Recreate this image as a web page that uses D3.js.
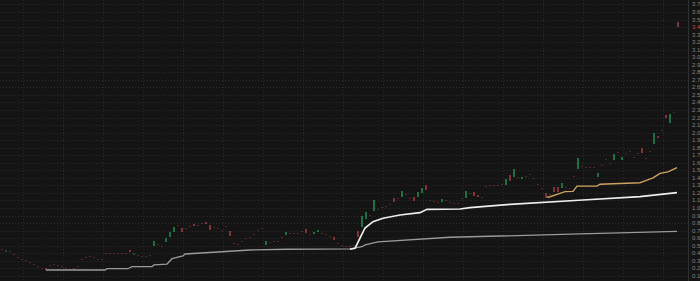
<html>
<head>
  <script src="https://d3js.org/d3.v7.min.js"></script>
  <title>Price chart</title>
</head>
<body style="margin:0;background:#141414;">
  <div id="container"></div>
  <script>
    // candle opens / closes, one per bar
    var opens = [0.45,0.42,0.43,0.39,0.35,0.33,0.31,0.28,0.26,0.23,0.21,0.20,0.25,0.26,0.24,0.23,0.20,0.19,0.20,0.23,
      0.32,0.35,0.36,0.35,0.32,0.33,0.41,0.41,0.40,0.41,0.41,0.40,0.44,0.38,0.38,0.36,0.36,0.38,0.50,0.52,
      0.50,0.55,0.62,0.69,0.77,0.74,0.74,0.76,0.79,0.78,0.80,0.82,0.77,0.75,0.73,0.71,0.76,0.70,0.54,0.52,
      0.56,0.60,0.62,0.65,0.71,0.74,0.51,0.55,0.56,0.56,0.62,0.64,0.67,0.67,0.67,0.69,0.72,0.65,0.65,0.68,
      0.67,0.66,0.63,0.61,0.54,0.51,0.50,0.49,0.51,0.69,0.75,0.86,0.91,0.95,0.99,1.02,1.03,1.05,1.13,1.13,
      1.15,1.18,1.13,1.14,1.14,1.21,1.30,1.11,1.09,1.08,1.08,1.10,1.08,1.06,1.07,1.13,1.14,1.20,1.21,1.17,
      1.14,1.29,1.31,1.30,1.30,1.32,1.31,1.44,1.42,1.41,1.38,1.42,1.45,1.40,1.32,1.27,1.20,1.19,1.28,1.28,
      1.27,1.28,1.27,1.43,1.52,1.56,1.54,1.54,1.54,1.42,1.57,1.65,1.60,1.64,1.74,1.64,1.73,1.76,1.68,1.73,
      1.80,1.67,1.76,1.85,1.95,2.04,2.23,2.13,2.28,3.47];
    var closes = [0.45,0.44,0.42,0.38,0.34,0.32,0.30,0.27,0.25,0.22,0.20,0.17,0.25,0.25,0.23,0.22,0.19,0.19,0.20,0.22,
      0.32,0.35,0.355,0.34,0.31,0.33,0.41,0.40,0.40,0.40,0.41,0.40,0.41,0.40,0.38,0.355,0.36,0.38,0.56,0.51,
      0.49,0.60,0.68,0.75,0.76,0.69,0.73,0.76,0.76,0.77,0.79,0.79,0.70,0.74,0.72,0.70,0.75,0.63,0.53,0.51,
      0.55,0.59,0.61,0.64,0.70,0.73,0.56,0.54,0.55,0.55,0.61,0.68,0.66,0.66,0.665,0.68,0.67,0.64,0.68,0.71,
      0.66,0.65,0.62,0.57,0.53,0.50,0.49,0.49,0.50,0.61,0.90,0.95,0.90,1.10,0.98,1.01,1.02,1.04,1.08,1.12,
      1.23,1.17,1.12,1.09,1.21,1.27,1.24,1.10,1.08,1.07,1.12,1.09,1.07,1.05,1.06,1.12,1.23,1.19,1.16,1.14,
      1.13,1.28,1.30,1.29,1.29,1.31,1.39,1.36,1.52,1.40,1.41,1.41,1.44,1.39,1.31,1.26,1.14,1.18,1.21,1.21,
      1.33,1.27,1.26,1.42,1.66,1.55,1.53,1.53,1.53,1.47,1.56,1.64,1.59,1.72,1.73,1.68,1.72,1.75,1.67,1.72,
      1.74,1.66,1.75,1.99,1.92,2.03,2.19,2.25,2.27,3.40];

    // moving averages: [bar index, value]
    var slowLine = [[11,0.178],[25.75,0.178],[26.25,0.195],[31.5,0.195],[32.5,0.222],[37.5,0.222],[38,0.245],
      [41.25,0.257],[42.5,0.328],[45.25,0.364],[45.75,0.39],[62,0.443],[71.25,0.453],[87,0.457],[90,0.487],
      [90.75,0.51],[94,0.55],[112,0.612],[144.5,0.656],[168.75,0.69]];
    var midLine = [[87,0.453],[88.25,0.466],[89.5,0.60],[90.75,0.735],[92.75,0.819],[95.25,0.864],[99.5,0.907],
      [104.5,0.938],[106.25,0.983],[114.5,0.987],[117,1.004],[127,1.049],[145.25,1.106],[159.5,1.15],[168.75,1.203]];
    var fastLine = [[136.25,1.142],[137,1.15],[139.5,1.195],[140.75,1.217],[142.75,1.22],[143.75,1.29],[148.75,1.29],
      [149.5,1.315],[159.5,1.336],[160.25,1.35],[162.75,1.40],[164.5,1.46],[166.5,1.48],[168.75,1.535]];

    var yTicks = d3.range(1, 38).map(function(d){ return d / 10; });
    var lastPrice = 3.4;

    var width = 700, height = 281, plotRight = 688;

    var svg = d3.select("#container")
      .append("svg")
      .attr("width", width)
      .attr("height", height)
      .style("display", "block")
      .style("background", "#141414");

    var x = d3.scaleLinear().domain([0, 169]).range([2, 678]);
    var y = d3.scaleLinear().domain([0.032, 3.759]).range([height, 0]);

    // dotted grid
    svg.append("g")
      .selectAll("line")
      .data(yTicks)
      .enter()
      .append("line")
      .attr("x1", 0)
      .attr("x2", plotRight)
      .attr("y1", function(d){ return Math.round(y(d)) + 0.5; })
      .attr("y2", function(d){ return Math.round(y(d)) + 0.5; })
      .style("stroke", "#2b2b2b")
      .style("stroke-dasharray", "1,2");
    svg.append("g")
      .selectAll("line")
      .data(d3.range(5.25, 169, 10))
      .enter()
      .append("line")
      .attr("x1", function(d){ return Math.round(x(d)) + 0.5; })
      .attr("x2", function(d){ return Math.round(x(d)) + 0.5; })
      .attr("y1", 0)
      .attr("y2", height)
      .style("stroke", "#282828")
      .style("stroke-dasharray", "1,2");

    // axis separator
    svg.append("line")
      .attr("x1", plotRight + 0.5).attr("x2", plotRight + 0.5)
      .attr("y1", 0).attr("y2", height)
      .style("stroke", "#303030");

    // candles
    svg.append("g")
      .selectAll("rect")
      .data(d3.range(closes.length))
      .enter()
      .append("rect")
      .attr("x", function(i){ return Math.round(x(i)) - 1; })
      .attr("width", 2)
      .attr("y", function(i){ return Math.round(y(Math.max(opens[i], closes[i]))); })
      .attr("height", function(i){ return Math.max(1, Math.round(Math.abs(y(opens[i]) - y(closes[i])))); })
      .attr("fill", function(i){ return closes[i] > opens[i] ? "#1f7a42" : "#8e3636"; })
      .attr("opacity", function(i){ return Math.abs(y(opens[i]) - y(closes[i])) < 2 ? 0.55 : 0.9; });

    var line = d3.line()
      .x(function(d){ return x(d[0]); })
      .y(function(d){ return y(d[1]); });

    svg.append("path").datum(slowLine).attr("d", line)
      .style("fill", "none").style("stroke", "#9a9a9a").style("stroke-width", 1.3);
    svg.append("path").datum(midLine).attr("d", line)
      .style("fill", "none").style("stroke", "#eeeeee").style("stroke-width", 1.7);
    svg.append("path").datum(fastLine).attr("d", line)
      .style("fill", "none").style("stroke", "#cfa262").style("stroke-width", 1.4);

    // right price axis
    svg.append("g")
      .selectAll("text")
      .data(yTicks)
      .enter()
      .append("text")
      .attr("x", 692)
      .attr("y", function(d){ return y(d) + 2; })
      .text(function(d){ return d.toFixed(1); })
      .style("font-family", "'Liberation Sans', Arial, sans-serif")
      .style("font-size", "6px")
      .style("fill", function(d){ return Math.abs(d - lastPrice) < 1e-6 ? "#d04444" : "#858585"; });
  </script>
</body>
</html>
